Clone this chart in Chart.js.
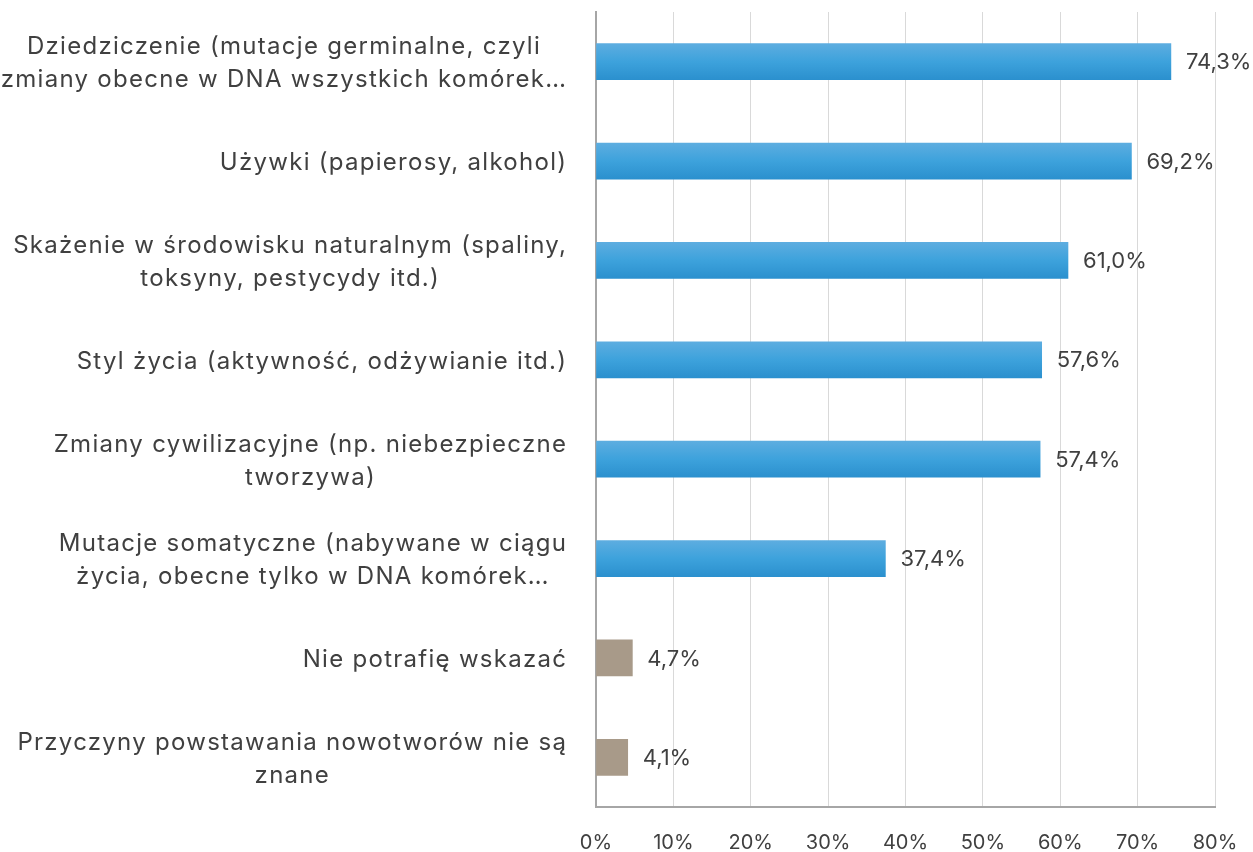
<!DOCTYPE html>
<html>
<head>
<meta charset="utf-8">
<script src="https://cdn.jsdelivr.net/npm/chart.js@4"></script>
<style>
html,body{margin:0;padding:0;background:#fff;}
#wrap{width:1253px;height:852px;position:relative;}
</style>
</head>
<body>
<div id="wrap"><canvas id="chart" width="1253" height="852"></canvas></div>
<script>
// data
const categories = [
["Dziedziczenie (mutacje germinalne, czyli","zmiany obecne w DNA wszystkich komórek…"],
["Używki (papierosy, alkohol)"],
["Skażenie w środowisku naturalnym (spaliny,","toksyny, pestycydy itd.)"],
["Styl życia (aktywność, odżywianie itd.)"],
["Zmiany cywilizacyjne (np. niebezpieczne","tworzywa)"],
["Mutacje somatyczne (nabywane w ciągu","życia, obecne tylko w DNA komórek…"],
["Nie potrafię wskazać"],
["Przyczyny powstawania nowotworów nie są","znane"]
];
const values = [74.3, 69.2, 61.0, 57.6, 57.4, 37.4, 4.7, 4.1];
const isOther = [false, false, false, false, false, false, true, true];
const xTicks = [0, 10, 20, 30, 40, 50, 60, 70, 80];

const FONT = "Inter, sans-serif";
const TEXT = "#404040";

function barColor(ctx){
const i = ctx.dataIndex;
if(isOther[i]) return "#A89A89";
const chart = ctx.chart;
const y = chart.scales.y;
if(!y || !chart.chartArea) return "#3A9FDB";
const c = y.getPixelForValue(i);
const g = chart.ctx.createLinearGradient(0, c-18, 0, c+18);
g.addColorStop(0, "#5DADE0");
g.addColorStop(0.5, "#3DA2DC");
g.addColorStop(1, "#2B90CE");
return g;
}

// y labels: lines centred inside their own block, block right aligned
const yLabels = {
id:"yLabels",
afterDraw(chart){
const ctx = chart.ctx;
const y = chart.scales.y;
const right = chart.chartArea.left - 30;
ctx.save();
ctx.font = "24px " + FONT;
ctx.letterSpacing = "0px";
// widest line in the picture is about 554px
const ref = categories[2][0];
const sp = Math.max(0, (554 - ctx.measureText(ref).width) / ref.length);
ctx.letterSpacing = sp.toFixed(2) + "px";
ctx.fillStyle = TEXT;
ctx.textAlign = "center";
ctx.textBaseline = "middle";
categories.forEach((lines,i)=>{
const w = Math.max(...lines.map(l=>ctx.measureText(l).width)) - sp;
const cx = right - w/2;
const cy = y.getPixelForValue(i) + 2;
const lh = 33;
lines.forEach((l,k)=>{
ctx.fillText(l, cx + sp/2, cy + (k - (lines.length-1)/2)*lh);
});
});
ctx.restore();
}
};

// value labels at bar ends
const valueLabels = {
id:"valueLabels",
afterDatasetsDraw(chart){
const ctx = chart.ctx;
const meta = chart.getDatasetMeta(0);
ctx.save();
ctx.font = "22px " + FONT;
ctx.fillStyle = TEXT;
ctx.textAlign = "left";
ctx.textBaseline = "middle";
meta.data.forEach((bar,i)=>{
ctx.fillText(values[i].toFixed(1).replace(".",",") + "%", bar.x + 15, bar.y + 1);
});
ctx.restore();
}
};

new Chart(document.getElementById("chart"),{
type:"bar",
data:{
labels:categories,
datasets:[{
data:values,
backgroundColor:barColor,
barThickness:36,
borderWidth:0
}]
},
options:{
indexAxis:"y",
responsive:false,
animation:false,
layout:{padding:{top:12,right:38,left:0,bottom:0}},
plugins:{legend:{display:false},tooltip:{enabled:false}},
scales:{
x:{
min:0,max:80,
afterBuildTicks(s){ s.ticks = xTicks.map(v=>({value:v})); },
afterFit(s){ s.height = 45; },
grid:{color:"#D9D9D9",lineWidth:1,drawTicks:true,tickLength:24,tickColor:"rgba(0,0,0,0)"},
border:{color:"#A6A6A6",width:2},
ticks:{
font:{family:FONT,size:20},color:TEXT,padding:0,
callback:v=>v+"%"
}
},
y:{
afterFit(s){ s.width = 596; },
grid:{display:false,drawTicks:false},
border:{color:"#A6A6A6",width:2},
ticks:{display:false}
}
}
},
plugins:[yLabels,valueLabels]
});
</script>
</body>
</html>
